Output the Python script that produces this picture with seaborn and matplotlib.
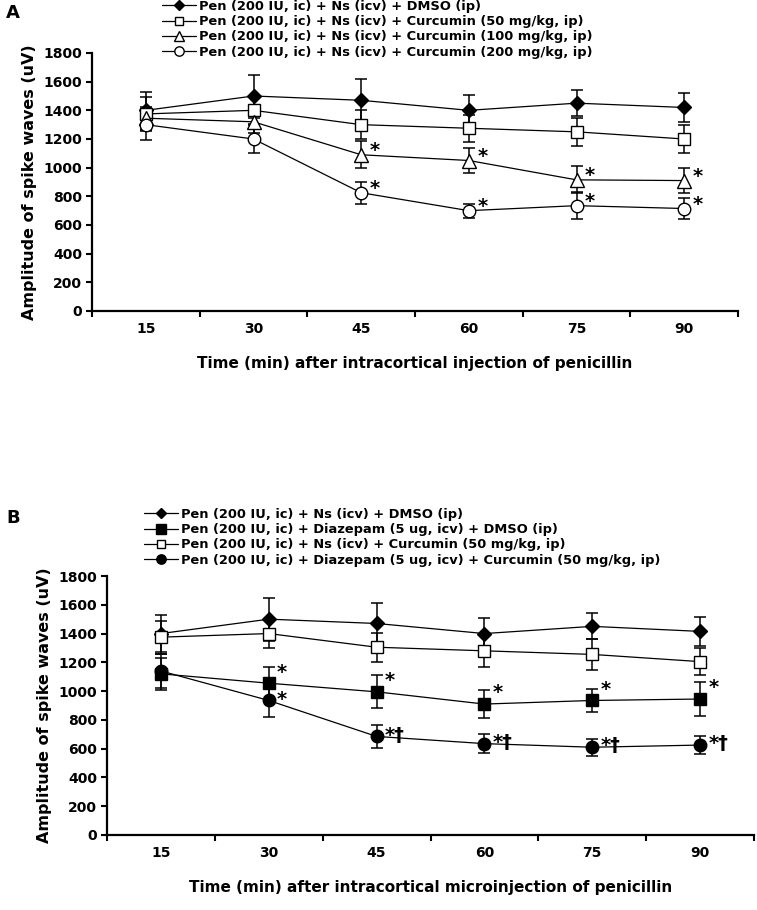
import pandas as pd
import matplotlib
matplotlib.use("Agg")
import matplotlib.pyplot as plt
import numpy as np
import seaborn as sns

# time points (min after penicillin)
time_min = [15, 30, 45, 60, 75, 90]

# panel A - mean amplitude (uV) and SEM
a_dmso = [1400, 1500, 1470, 1400, 1450, 1420]
a_dmso_sem = [130, 150, 150, 105, 90, 100]
a_cur50 = [1375, 1400, 1300, 1275, 1250, 1200]
a_cur50_sem = [120, 95, 100, 95, 100, 95]
a_cur100 = [1345, 1320, 1090, 1050, 915, 910]
a_cur100_sem = [80, 80, 95, 85, 95, 85]
a_cur200 = [1300, 1200, 825, 700, 735, 715]
a_cur200_sem = [105, 100, 78, 50, 95, 70]
a_cur100_sig = ["", "", "*", "*", "*", "*"]
a_cur200_sig = ["", "", "*", "*", "*", "*"]

# panel B
b_dmso = [1400, 1500, 1470, 1400, 1450, 1415]
b_dmso_sem = [130, 150, 145, 105, 90, 100]
b_diaz_dmso = [1120, 1055, 995, 910, 935, 945]
b_diaz_dmso_sem = [110, 115, 115, 100, 80, 120]
b_cur50 = [1375, 1400, 1305, 1280, 1255, 1205]
b_cur50_sem = [115, 100, 100, 115, 110, 95]
b_diaz_cur = [1140, 935, 685, 635, 610, 625]
b_diaz_cur_sem = [120, 115, 80, 65, 60, 65]
b_diaz_dmso_sig = ["", "*", "*", "*", "*", "*"]
b_diaz_cur_sig = ["", "*", "*\u2020", "*\u2020", "*\u2020", "*\u2020"]

labels_a = ["Pen (200 IU, ic) + Ns (icv) + DMSO (ip)",
            "Pen (200 IU, ic) + Ns (icv) + Curcumin (50 mg/kg, ip)",
            "Pen (200 IU, ic) + Ns (icv) + Curcumin (100 mg/kg, ip)",
            "Pen (200 IU, ic) + Ns (icv) + Curcumin (200 mg/kg, ip)"]
labels_b = ["Pen (200 IU, ic) + Ns (icv) + DMSO (ip)",
            "Pen (200 IU, ic) + Diazepam (5 ug, icv) + DMSO (ip)",
            "Pen (200 IU, ic) + Ns (icv) + Curcumin (50 mg/kg, ip)",
            "Pen (200 IU, ic) + Diazepam (5 ug, icv) + Curcumin (50 mg/kg, ip)"]

sns.set_style("ticks")
plt.rcParams['font.family'] = ['DejaVu Sans']
plt.rcParams['font.weight'] = 'bold'
for k in ['text.color', 'axes.labelcolor', 'xtick.color', 'ytick.color', 'axes.edgecolor']:
    plt.rcParams[k] = 'black'

# marker styles: (marker, size, facecolor)
sty_diamond = ("D", 7, "black")
sty_osquare = ("s", 8.5, "white")
sty_otri = ("^", 9.5, "white")
sty_ocircle = ("o", 9, "white")
sty_fsquare = ("s", 9, "black")
sty_fcircle = ("o", 9, "black")


def draw_series(ax, y, sem, style, label, sig=None, dy=3):
    df = pd.DataFrame({"Time": time_min, "Amp": y})
    ax.errorbar(time_min, y, yerr=sem, fmt="none", ecolor="black",
                elinewidth=1.1, capsize=4, capthick=1.1, zorder=2)
    m, ms, fc = style
    sns.lineplot(data=df, x="Time", y="Amp", ax=ax, color="black", linewidth=0.9,
                 marker=m, markersize=ms, markerfacecolor=fc, markeredgecolor="black",
                 markeredgewidth=1.0, label=label, zorder=3)
    if sig is not None:
        for t, v, s in zip(time_min, y, sig):
            if s:
                ax.annotate(s, (t, v), xytext=(6, dy), textcoords="offset points",
                            ha="left", va="center", fontsize=14, fontweight="bold")


def style_axes(ax, xlabel, legend_anchor):
    ax.set_xlim(7.5, 97.5)
    ax.set_ylim(0, 1800)
    ax.set_yticks(np.arange(0, 1801, 200))
    ax.set_xticks(time_min)
    ax.set_xticks(np.arange(7.5, 98, 15), minor=True)
    ax.tick_params(axis="x", which="major", length=0, pad=8, labelsize=10)
    ax.tick_params(axis="x", which="minor", length=4, width=1.5, direction="out")
    ax.tick_params(axis="y", length=4, width=1.5, direction="out", labelsize=10, pad=3)
    for lab in ax.get_xticklabels() + ax.get_yticklabels():
        lab.set_fontweight("bold")
    sns.despine(ax=ax)
    ax.spines["left"].set_linewidth(1.6)
    ax.spines["bottom"].set_linewidth(1.6)
    ax.set_xlabel(xlabel, fontsize=11, fontweight="bold", labelpad=14)
    ax.set_ylabel("Amplitude of spike waves (uV)", fontsize=11.5, fontweight="bold", labelpad=5)
    leg = ax.legend(loc="upper left", bbox_to_anchor=legend_anchor,
                    bbox_transform=ax.figure.transFigure, frameon=False,
                    fontsize=9.4, handlelength=2.6, handletextpad=0.25,
                    labelspacing=0.17, borderpad=0, borderaxespad=0, markerscale=0.75)
    for t in leg.get_texts():
        t.set_fontweight("bold")


fig = plt.figure(figsize=(7.57, 9.10), dpi=100)
W, H = 757, 910
axA = fig.add_axes([92 / W, 1 - 311 / H, (738 - 92) / W, (311 - 53) / H])
axB = fig.add_axes([107 / W, 1 - 835 / H, (754 - 107) / W, (835 - 576) / H])

draw_series(axA, a_dmso, a_dmso_sem, sty_diamond, labels_a[0])
draw_series(axA, a_cur50, a_cur50_sem, sty_osquare, labels_a[1])
draw_series(axA, a_cur100, a_cur100_sem, sty_otri, labels_a[2], a_cur100_sig)
draw_series(axA, a_cur200, a_cur200_sem, sty_ocircle, labels_a[3], a_cur200_sig)
style_axes(axA, "Time (min) after intracortical injection of penicillin",
           (162 / W, 1 - 0 / H))

draw_series(axB, b_dmso, b_dmso_sem, sty_diamond, labels_b[0])
draw_series(axB, b_diaz_dmso, b_diaz_dmso_sem, sty_fsquare, labels_b[1], b_diaz_dmso_sig, dy=8)
draw_series(axB, b_cur50, b_cur50_sem, sty_osquare, labels_b[2])
draw_series(axB, b_diaz_cur, b_diaz_cur_sem, sty_fcircle, labels_b[3], b_diaz_cur_sig, dy=1)
style_axes(axB, "Time (min) after intracortical microinjection of penicillin",
           (144 / W, 1 - 508 / H))

fig.text(6 / W, 1 - 13 / H, "A", fontsize=13, fontweight="bold", va="center", ha="left")
fig.text(6 / W, 1 - 518 / H, "B", fontsize=13, fontweight="bold", va="center", ha="left")

fig.savefig("out.png", dpi=100)
